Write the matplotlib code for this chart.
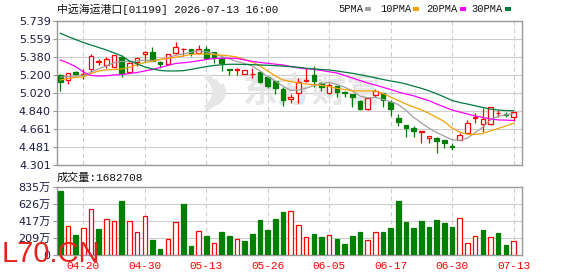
import matplotlib
matplotlib.use('Agg')
import matplotlib.pyplot as plt
from matplotlib.patches import Rectangle, Wedge
import numpy as np

# ---------------- data ----------------
title = "中远海运港口[01199] 2026-07-13 16:00"
vol_title = "成交量:1682708"
date_labels = ['04-20', '04-30', '05-13', '05-26', '06-05', '06-17', '06-30', '07-13']
date_index = [3, 11, 19, 27, 35, 43, 51, 59]

opens = [5.200, 5.150, 5.233, 5.200, 5.257, 5.330, 5.300, 5.283, 5.383, 5.233,
         5.333, 5.413, 5.427, 5.333, 5.307, 5.417, 5.455, 5.459, 5.416, 5.456,
         5.426, 5.373, 5.258, 5.253, 5.210, 5.205, 5.233, 5.183, 5.143, 5.060,
         4.958, 5.017, 5.140, 5.200, 5.123, 5.017, 5.090, 5.033, 5.010, 4.940,
         4.857, 4.997, 5.017, 4.934, 4.768, 4.701, 4.674, 4.631, 4.568, 4.574,
         4.551, 4.490, 4.551, 4.624, 4.771, 4.708, 4.708, 4.821, 4.810, 4.778]
closes = [5.133, 5.217, 5.207, 5.207, 5.390, 5.337, 5.357, 5.400, 5.217, 5.317,
          5.373, 5.433, 5.340, 5.307, 5.407, 5.476, 5.461, 5.416, 5.456, 5.366,
          5.373, 5.317, 5.253, 5.263, 5.250, 5.211, 5.133, 5.090, 5.067, 4.950,
          4.984, 5.133, 5.147, 5.143, 5.083, 5.100, 5.033, 5.017, 4.977, 4.857,
          4.967, 5.040, 4.950, 4.857, 4.734, 4.674, 4.641, 4.636, 4.591, 4.544,
          4.524, 4.480, 4.601, 4.718, 4.778, 4.758, 4.877, 4.825, 4.805, 4.828]
highs = [5.210, 5.223, 5.240, 5.257, 5.410, 5.360, 5.377, 5.403, 5.403, 5.333,
         5.376, 5.436, 5.476, 5.335, 5.410, 5.526, 5.466, 5.462, 5.496, 5.485,
         5.428, 5.375, 5.258, 5.273, 5.252, 5.273, 5.236, 5.186, 5.150, 5.080,
         5.010, 5.167, 5.266, 5.290, 5.127, 5.117, 5.093, 5.035, 5.012, 4.950,
         4.970, 5.057, 5.020, 4.950, 4.808, 4.703, 4.691, 4.638, 4.593, 4.576,
         4.553, 4.518, 4.624, 4.751, 4.818, 4.868, 4.880, 4.850, 4.834, 4.830]
lows = [5.043, 5.107, 5.190, 5.157, 5.233, 5.300, 5.267, 5.280, 5.183, 5.225,
        5.290, 5.333, 5.335, 5.267, 5.305, 5.414, 5.390, 5.390, 5.413, 5.363,
        5.323, 5.243, 5.200, 5.200, 5.208, 5.167, 5.117, 5.073, 5.010, 4.890,
        4.924, 4.924, 5.133, 5.083, 5.043, 5.015, 4.984, 4.984, 4.884, 4.850,
        4.855, 4.980, 4.884, 4.790, 4.691, 4.584, 4.584, 4.524, 4.524, 4.424,
        4.474, 4.451, 4.549, 4.622, 4.724, 4.634, 4.700, 4.784, 4.778, 4.741]

# volume in 万 (10k shares)
volumes = [786, 360, 246, 328, 565, 319, 438, 417, 663, 417,
           279, 479, 184, 74, 196, 401, 622, 114, 295, 237,
           143, 286, 237, 196, 172, 258, 430, 307, 442, 532,
           540, 368, 221, 258, 225, 246, 196, 135, 237, 286,
           184, 282, 282, 336, 667, 409, 336, 417, 348, 430,
           393, 348, 454, 147, 233, 307, 221, 270, 123, 168]
# 1 = red (up vs previous close), 0 = green
volume_up = [0, 1, 0, 1, 1, 0, 1, 1, 0, 1, 1, 1, 0, 0, 1, 1, 0, 0, 1, 0,
             1, 0, 0, 1, 0, 0, 0, 0, 0, 0, 1, 1, 1, 0, 0, 1, 0, 0, 0, 0,
             1, 1, 0, 0, 0, 0, 0, 0, 0, 0, 0, 0, 1, 1, 1, 0, 1, 0, 0, 1]

ma5 = [5.180, 5.185, 5.190, 5.195, 5.228, 5.262, 5.292, 5.322, 5.335, 5.336,
       5.340, 5.349, 5.343, 5.355, 5.373, 5.396, 5.410, 5.427, 5.443, 5.432,
       5.412, 5.386, 5.360, 5.335, 5.315, 5.290, 5.240, 5.180, 5.140, 5.088,
       5.046, 5.050, 5.068, 5.095, 5.112, 5.127, 5.105, 5.078, 5.043, 4.990,
       4.972, 4.977, 4.957, 4.932, 4.905, 4.846, 4.776, 4.722, 4.668, 4.624,
       4.589, 4.553, 4.546, 4.570, 4.623, 4.680, 4.750, 4.788, 4.803, 4.814]
ma10 = [5.150, 5.165, 5.175, 5.183, 5.215, 5.240, 5.250, 5.255, 5.260, 5.275,
        5.305, 5.325, 5.337, 5.355, 5.365, 5.377, 5.390, 5.405, 5.410, 5.410,
        5.405, 5.398, 5.390, 5.380, 5.355, 5.330, 5.290, 5.240, 5.190, 5.150,
        5.135, 5.120, 5.110, 5.103, 5.095, 5.085, 5.067, 5.055, 5.042, 5.040,
        5.040, 5.040, 5.015, 4.980, 4.945, 4.910, 4.880, 4.851, 4.816, 4.776,
        4.734, 4.671, 4.631, 4.608, 4.606, 4.616, 4.641, 4.666, 4.691, 4.718]
ma20 = [5.350, 5.320, 5.283, 5.230, 5.195, 5.190, 5.192, 5.200, 5.205, 5.215,
        5.225, 5.240, 5.255, 5.275, 5.295, 5.315, 5.322, 5.330, 5.342, 5.355,
        5.365, 5.367, 5.367, 5.365, 5.350, 5.335, 5.325, 5.317, 5.308, 5.300,
        5.285, 5.270, 5.262, 5.257, 5.245, 5.232, 5.220, 5.195, 5.170, 5.145,
        5.120, 5.100, 5.077, 5.055, 5.030, 5.010, 4.992, 4.967, 4.943, 4.910,
        4.880, 4.850, 4.830, 4.810, 4.791, 4.776, 4.761, 4.751, 4.749, 4.746]
ma30 = [5.616, 5.584, 5.554, 5.524, 5.499, 5.474, 5.450, 5.420, 5.390, 5.340,
        5.310, 5.280, 5.260, 5.245, 5.240, 5.240, 5.243, 5.255, 5.270, 5.283,
        5.295, 5.302, 5.307, 5.307, 5.305, 5.303, 5.300, 5.297, 5.293, 5.288,
        5.283, 5.277, 5.267, 5.260, 5.255, 5.250, 5.240, 5.228, 5.217, 5.202,
        5.188, 5.172, 5.155, 5.140, 5.127, 5.110, 5.088, 5.067, 5.042, 5.012,
        4.980, 4.945, 4.925, 4.910, 4.892, 4.875, 4.860, 4.850, 4.845, 4.843]

price_tick_labels = ['5.739', '5.559', '5.380', '5.200', '5.020',
                     '4.840', '4.661', '4.481', '4.301']
vol_tick_labels = ['0', '209万', '417万', '626万', '835万']
vol_max = 835

legend_names = ['5PMA', '10PMA', '20PMA', '30PMA']

# ---------------- styling ----------------
RED = '#ff0000'
GREEN = '#008000'
MA_COLORS = ['#a0a0a0', '#f5a200', '#ff00ff', '#007a3d']
FRAME = '#999999'
GRID = '#cccccc'
LABEL = '#1c1c44'
WM = '#e6e6e6'

W, H = 578, 276
fig = plt.figure(figsize=(W / 100, H / 100), dpi=100)
fig.patch.set_facecolor('white')


def fx(px):
    return px / W


def fy(py):
    return 1 - py / H


ax = fig.add_axes([fx(57), fy(165), 465 / W, 144 / H])
axv = fig.add_axes([fx(57), fy(255), 465 / W, 68 / H])

n = len(closes)
x = np.arange(n)
xlim = (-0.43, 60.1)

# ---------- price panel ----------
pt = [float(s) for s in price_tick_labels]
ax.set_ylim(min(pt), max(pt))
ax.set_xlim(*xlim)
for v in pt:
    ax.axhline(v, color=GRID, lw=0.8, zorder=0.5)
for d in date_index:
    ax.axvline(d, color=GRID, lw=0.8, ls=(0, (4, 3)), zorder=0.5)

# faint background watermark (logo + name)
ax.text(fx(312), fy(91), '东方财富', fontsize=25, color=WM,
        fontweight='bold', family=['Noto Sans CJK SC'], ha='center',
        va='center', zorder=0.6, transform=fig.transFigure)
for (cx, cy, r, t1, t2, wd) in [(196, 92, 22, -60, 60, 6),
                                (204, 92, 18, -70, 50, 5),
                                (212, 92, 14, -80, 40, 4)]:
    ax.add_patch(Wedge((cx, H - cy), r, t1, t2, width=wd, facecolor=WM,
                       edgecolor='none', transform=None, zorder=0.6))

up = [c >= o for o, c in zip(opens, closes)]
ccol = [RED if u else GREEN for u in up]
ax.vlines(x, lows, highs, colors=ccol, lw=0.9, zorder=2)
bottoms = [min(o, c) for o, c in zip(opens, closes)]
heights = [max(abs(c - o), 0.003) for o, c in zip(opens, closes)]
faces = ['white' if u else GREEN for u in up]
ax.bar(x, heights, bottom=bottoms, width=0.6, color=faces, edgecolor=ccol,
       linewidth=0.9, zorder=3)

for ma, col in zip([ma5, ma10, ma20, ma30], MA_COLORS):
    ax.plot(x, ma, color=col, lw=0.9, zorder=4)

ax.set_yticks(pt)
ax.set_yticklabels(price_tick_labels)
ax.set_xticks([])
ax.tick_params(axis='y', length=3, width=0.8, color=FRAME, pad=1.5,
               labelsize=8, labelcolor=LABEL)
for lab in ax.get_yticklabels():
    lab.set_family(['DejaVu Sans'])
for s in ax.spines.values():
    s.set_color(FRAME)
    s.set_linewidth(1)

# ---------- volume panel ----------
axv.set_xlim(*xlim)
axv.set_ylim(0, vol_max)
vt = np.linspace(0, vol_max, len(vol_tick_labels))
for v in vt[1:-1]:
    axv.axhline(v, color=GRID, lw=0.8, zorder=0.5)
for d in date_index:
    axv.axvline(d, color=GRID, lw=0.8, ls=(0, (4, 3)), zorder=0.5)
vcol = [RED if u else GREEN for u in volume_up]
vface = ['white' if u else GREEN for u in volume_up]
axv.bar(x, volumes, width=0.6, color=vface, edgecolor=vcol, linewidth=0.9,
        zorder=3)
axv.set_yticks(vt)
axv.set_yticklabels(vol_tick_labels)
axv.tick_params(axis='y', length=3, width=0.8, color=FRAME, pad=1.5,
                labelsize=8, labelcolor=LABEL)
for lab in axv.get_yticklabels():
    lab.set_family(['DejaVu Sans', 'Noto Sans CJK SC'])
axv.set_xticks(date_index)
axv.set_xticklabels(date_labels)
axv.tick_params(axis='x', length=0, pad=4, labelsize=8, labelcolor=RED)
for lab in axv.get_xticklabels():
    lab.set_family(['Liberation Mono'])
for s in axv.spines.values():
    s.set_color(FRAME)
    s.set_linewidth(1)

# ---------- texts ----------
fig.text(fx(57), fy(9), title, fontsize=7.8, color='#111111',
         family=['Liberation Mono', 'Noto Sans CJK SC'], va='center', ha='left')
fig.text(fx(57), fy(177.5), vol_title, fontsize=8, color='#111111',
         family=['Liberation Mono', 'Noto Sans CJK SC'], va='center', ha='left')

leg_text_x = [338, 380, 426, 471.5]
leg_mark_x = [365, 413, 459.5, 505]
for name, tx, mx, col in zip(legend_names, leg_text_x, leg_mark_x, MA_COLORS):
    fig.text(fx(tx), fy(9), name, fontsize=7.5, color='#111111',
             family=['Liberation Mono'], va='center', ha='left')
    fig.patches.append(Rectangle((fx(mx), fy(11)), 6 / W, 4 / H,
                                 transform=fig.transFigure, facecolor=col,
                                 edgecolor='none'))

fig.text(fx(2), fy(254), 'L70.CN', fontsize=21, color='#e8201c',
         family=['Liberation Sans'], va='center', ha='left', zorder=10)

fig.savefig('out.png', dpi=100, facecolor='white')
